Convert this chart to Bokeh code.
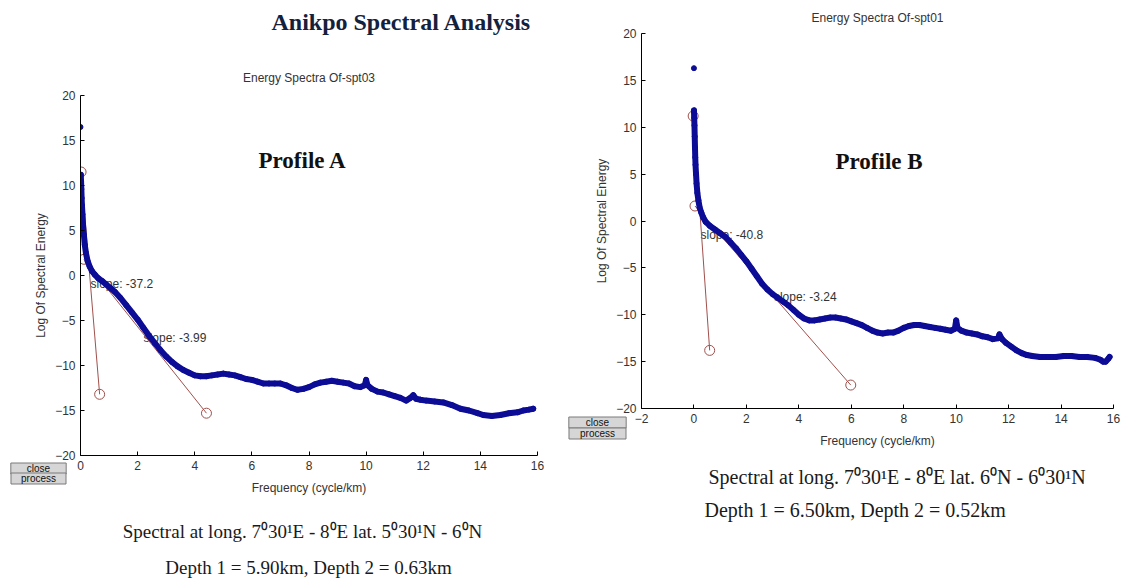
from bokeh.plotting import figure
from bokeh.layouts import row, column
from bokeh.models import Label, Range1d, FixedTicker
from bokeh.core.properties import value
from bokeh.embed import file_html
from bokeh.resources import INLINE

# ---------------- data ----------------
main_title = "Anikpo Spectral Analysis"

title_a = "Energy Spectra Of-spt03"
title_b = "Energy Spectra Of-spt01"
profile_a = "Profile A"
profile_b = "Profile B"
x_label = "Frequency (cycle/km)"
y_label = "Log Of Spectral Energy"

x_ticks_a = [0, 2, 4, 6, 8, 10, 12, 14, 16]
x_ticks_b = [-2, 0, 2, 4, 6, 8, 10, 12, 14, 16]
y_ticks = [-20, -15, -10, -5, 0, 5, 10, 15, 20]

freq_a = [0.00, 0.01, 0.02, 0.03, 0.04, 0.05, 0.07, 0.09, 0.12, 0.15, 0.19, 0.25,
          0.32, 0.40, 0.50, 0.62, 0.75, 0.90, 1.05, 1.20, 1.40, 1.60, 1.80, 2.00,
          2.20, 2.40, 2.60, 2.80, 3.00, 3.20, 3.40, 3.60, 3.80, 4.00, 4.20, 4.40,
          4.60, 4.80, 5.00, 5.20, 5.40, 5.60, 5.80, 6.00, 6.20, 6.40, 6.60, 6.80,
          7.00, 7.20, 7.40, 7.60, 7.80, 8.00, 8.20, 8.40, 8.60, 8.80, 9.00, 9.20,
          9.40, 9.60, 9.80, 9.95, 10.00, 10.05, 10.20, 10.40, 10.60, 10.80, 11.00,
          11.20, 11.40, 11.55, 11.65, 11.75, 11.90, 12.10, 12.40, 12.70, 13.00,
          13.30, 13.60, 13.90, 14.10, 14.40, 14.70, 15.00, 15.30, 15.50, 15.70, 15.85]
energy_a = [16.5, 11.2, 10.4, 9.6, 8.6, 7.8, 6.8, 5.6, 4.5, 3.4, 2.5, 1.6,
            1.0, 0.5, 0.1, -0.3, -0.6, -1.0, -1.4, -1.8, -2.5, -3.3, -4.1, -4.9,
            -5.8, -6.7, -7.5, -8.3, -9.0, -9.6, -10.1, -10.5, -10.8, -11.1, -11.2, -11.2,
            -11.1, -11.0, -10.9, -11.0, -11.1, -11.3, -11.5, -11.6, -11.8, -12.0, -12.0, -12.0,
            -12.0, -12.2, -12.5, -12.7, -12.6, -12.4, -12.1, -11.9, -11.8, -11.7, -11.8, -11.9,
            -12.0, -12.3, -12.4, -12.2, -11.6, -12.2, -12.6, -12.9, -13.0, -13.2, -13.4,
            -13.6, -13.9, -13.6, -13.3, -13.7, -13.8, -13.9, -14.0, -14.1, -14.4,
            -14.8, -15.0, -15.3, -15.5, -15.6, -15.5, -15.3, -15.2, -15.0, -14.9, -14.8]

freq_b = [0.00, 0.00, 0.01, 0.02, 0.03, 0.04, 0.05, 0.06, 0.08, 0.10, 0.13, 0.17,
          0.22, 0.28, 0.35, 0.45, 0.60, 0.80, 1.00, 1.20, 1.40, 1.60, 1.80, 2.00,
          2.20, 2.40, 2.60, 2.80, 3.00, 3.20, 3.40, 3.60, 3.80, 4.00, 4.20, 4.40,
          4.60, 4.80, 5.00, 5.20, 5.40, 5.60, 5.80, 6.00, 6.20, 6.40, 6.60, 6.80,
          7.00, 7.20, 7.40, 7.60, 7.80, 8.00, 8.20, 8.40, 8.60, 8.80, 9.00, 9.20,
          9.40, 9.60, 9.80, 9.95, 10.00, 10.05, 10.20, 10.40, 10.60, 10.80, 11.00,
          11.20, 11.40, 11.60, 11.65, 11.75, 11.90, 12.10, 12.30, 12.50, 12.70, 12.90,
          13.20, 13.50, 13.80, 14.10, 14.40, 14.70, 15.00, 15.30, 15.50, 15.60, 15.70,
          15.80, 15.85]
energy_b = [16.3, 11.8, 11.0, 10.2, 9.0, 7.8, 6.8, 6.0, 5.0, 4.0, 3.0, 2.2,
            1.4, 0.9, 0.4, -0.1, -0.5, -0.9, -1.3, -1.7, -2.3, -2.9, -3.6, -4.3,
            -5.1, -5.9, -6.7, -7.3, -7.8, -8.2, -8.6, -9.0, -9.5, -10.0, -10.4, -10.6,
            -10.6, -10.5, -10.4, -10.3, -10.3, -10.4, -10.5, -10.7, -10.9, -11.1, -11.4, -11.7,
            -11.9, -12.0, -11.9, -11.9, -11.7, -11.4, -11.2, -11.1, -11.1, -11.2, -11.3, -11.4,
            -11.5, -11.6, -11.7, -11.5, -10.6, -11.4, -11.7, -11.9, -12.0, -12.1, -12.3,
            -12.4, -12.6, -12.5, -12.1, -12.6, -13.0, -13.4, -13.8, -14.1, -14.3, -14.4,
            -14.5, -14.5, -14.5, -14.4, -14.4, -14.5, -14.5, -14.6, -14.8, -15.0, -15.0,
            -14.7, -14.5]

# fitted slope segments (end points marked with open circles)
fit_a1_freq = [0.02, 0.67]
fit_a1_energy = [11.5, -13.2]
fit_a2_freq = [0.12, 4.41]
fit_a2_energy = [1.8, -15.3]
fit_b1_freq = [-0.03, 0.60]
fit_b1_energy = [11.2, -13.8]
fit_b2_freq = [0.04, 5.98]
fit_b2_energy = [1.6, -17.5]

slope_text_a = ["slope: -37.2", "slope: -3.99"]
slope_freq_a = [0.35, 2.21]
slope_energy_a = [-0.9, -6.9]
slope_text_b = ["slope: -40.8", "slope: -3.24"]
slope_freq_b = [0.25, 3.05]
slope_energy_b = [-1.5, -8.1]

caption_a1 = "Spectral at long. 7\u207030\u00b9E - 8\u2070E lat. 5\u207030\u00b9N - 6\u2070N"
caption_a2 = "Depth 1 = 5.90km, Depth 2 = 0.63km"
caption_b1 = "Spectral at long. 7\u207030\u00b9E - 8\u2070E lat. 6\u2070N - 6\u207030\u00b9N"
caption_b2 = "Depth 1 = 6.50km, Depth 2 = 0.52km"

# ---------------- styling ----------------
DATA_COLOR = "#0c0c96"
FIT_COLOR = "#a0504c"
TEXT_GRAY = "#333333"
SANS = "Liberation Sans"
SERIF = "Liberation Serif"


def style_axes(p, xticks):
    p.grid.visible = False
    p.outline_line_color = None
    p.background_fill_color = "white"
    p.border_fill_color = "white"
    for ax in (p.xaxis, p.yaxis):
        ax.axis_line_color = "black"
        ax.axis_line_width = 1
        ax.major_tick_line_color = "black"
        ax.major_tick_in = 4
        ax.major_tick_out = 0
        ax.minor_tick_in = 0
        ax.minor_tick_out = 0
        ax.major_label_text_font = SANS
        ax.major_label_text_font_size = "12px"
        ax.major_label_text_color = TEXT_GRAY
        ax.major_label_standoff = 5
        ax.axis_label_text_font = SANS
        ax.axis_label_text_font_size = "12px"
        ax.axis_label_text_font_style = "normal"
        ax.axis_label_text_color = TEXT_GRAY
    p.xaxis.ticker = FixedTicker(ticks=xticks)
    p.yaxis.ticker = FixedTicker(ticks=y_ticks)
    p.xaxis.axis_label = x_label
    p.yaxis.axis_label = y_label
    p.xaxis.axis_label_standoff = 8
    p.yaxis.axis_label_standoff = 4


def add_title(p, text, y):
    # chart title drawn in the panel just above the plot frame
    p.add_layout(Label(x=0.5 * (p.width - p.min_border_left - p.min_border_right), y=y,
                       x_units="screen", y_units="screen", text=text,
                       text_align="center", text_baseline="middle", text_font=SANS,
                       text_font_size="12px", text_color=TEXT_GRAY), "above")


def add_button(p, text, x, y, pad):
    p.add_layout(Label(x=x, y=y, x_units="screen", y_units="screen", text=text,
                       text_align="center", text_baseline="middle",
                       text_font=SANS, text_font_size="10px", text_color="#111111",
                       background_fill_color="#d6d6d6", border_line_color="#7a7a7a",
                       border_line_width=1, padding=(pad, 0)), "below")


def add_caption(p, text, x, y, align, size):
    p.add_layout(Label(x=x, y=y, x_units="screen", y_units="screen", text=text,
                       text_align=align, text_baseline="middle", text_font=SERIF,
                       text_font_size=size, text_color="#1a1a1a"), "below")


def draw_series(p, freq, energy, fits, sfreq, senergy, stext):
    p.text(x=sfreq, y=senergy, text=stext, text_font=value(SANS), text_font_size="12px",
           text_color=TEXT_GRAY, text_align="left", text_baseline="middle")
    for fx, fy in fits:
        p.line(fx, fy, line_color=FIT_COLOR, line_width=1)
        p.scatter(fx, fy, marker="circle", size=10, fill_color=None,
                  line_color=FIT_COLOR, line_width=1)
    p.line(freq[1:], energy[1:], line_color=DATA_COLOR, line_width=6, line_join="round",
           line_cap="round")
    p.scatter(freq, energy, marker="circle", size=5, fill_color=DATA_COLOR,
              line_color=DATA_COLOR)


# ---------------- left panel (Profile A) ----------------
pa = figure(width=562, height=583, x_range=Range1d(0, 16), y_range=Range1d(-20, 20),
            title=None, output_backend="svg", toolbar_location=None,
            min_border_left=80, min_border_right=25, min_border_top=95, min_border_bottom=128)
style_axes(pa, x_ticks_a)
add_title(pa, title_a, 18)
draw_series(pa, freq_a, energy_a,
            [(fit_a1_freq, fit_a1_energy), (fit_a2_freq, fit_a2_energy)],
            slope_freq_a, slope_energy_a, slope_text_a)
pa.add_layout(Label(x=321, y=73, x_units="screen", y_units="screen", text=main_title,
                    text_align="center", text_baseline="top", text_font=SERIF,
                    text_font_size="24px", text_font_style="bold", text_color="#14213d"),
              "above")
pa.add_layout(Label(x=178, y=295, x_units="screen", y_units="screen", text=profile_a,
                    text_align="left", text_baseline="middle", text_font=SERIF,
                    text_font_size="23px", text_font_style="bold", text_color="#111111"))
add_button(pa, "close", -42, 40, 16)
add_button(pa, "process", -42, 41, 10)
add_caption(pa, caption_a1, 222, 9, "center", "19px")
add_caption(pa, caption_a2, 228, -6, "center", "19px")

# ---------------- right panel (Profile B) ----------------
pb = figure(width=563, height=583, x_range=Range1d(-2, 16), y_range=Range1d(-20, 20),
            title=None, output_backend="svg", toolbar_location=None,
            min_border_left=79, min_border_right=12, min_border_top=33, min_border_bottom=175)
style_axes(pb, x_ticks_b)
add_title(pb, title_b, 16)
draw_series(pb, freq_b, energy_b,
            [(fit_b1_freq, fit_b1_energy), (fit_b2_freq, fit_b2_energy)],
            slope_freq_b, slope_energy_b, slope_text_b)
pb.add_layout(Label(x=194, y=247, x_units="screen", y_units="screen", text=profile_b,
                    text_align="left", text_baseline="middle", text_font=SERIF,
                    text_font_size="23px", text_font_style="bold", text_color="#111111"))
add_button(pb, "close", -44, 39, 17)
add_button(pb, "process", -44, 39, 11)
add_caption(pb, caption_b1, 67, 18, "left", "20px")
add_caption(pb, caption_b2, 63, 7, "left", "20px")

layout = row(column(pa), column(pb))
open("out.html", "w").write(file_html(layout, INLINE))
